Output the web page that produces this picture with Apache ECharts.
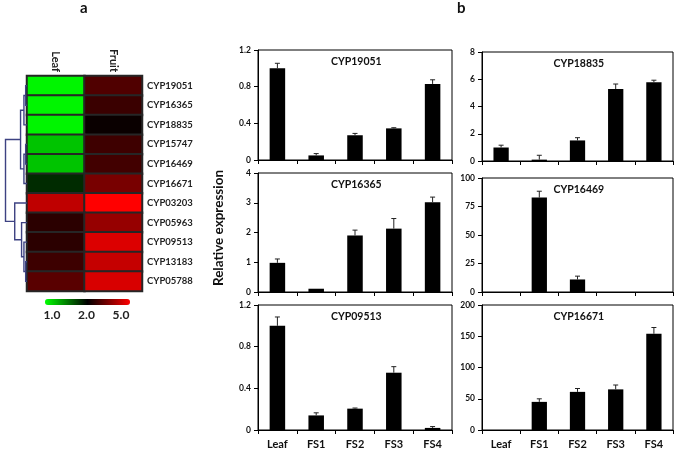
<!DOCTYPE html>
<html><head><meta charset="utf-8">
<script src="https://cdn.jsdelivr.net/npm/echarts@6/dist/echarts.min.js"></script>
<style>html,body{margin:0;padding:0;background:#fff}#c{width:675px;height:451px}</style>
</head><body><div id="c"></div>
<script>
// ---------- data: panel a (heatmap) ----------
const genes = ['CYP19051','CYP16365','CYP18835','CYP15747','CYP16469','CYP16671','CYP03203','CYP05963','CYP09513','CYP13183','CYP05788'];
const tissues = ['Leaf','Fruit'];
const leafExpr  = [1.04,1.04,1.04,1.23,1.23,1.83,4.25,2.5,2.5,2.72,3.05];
const fruitExpr = [2.94,2.68,2.12,2.73,2.78,3.41,5.0,3.77,4.59,4.32,4.54];
const colorbarLabels = ['1.0','2.0','5.0'];
// dendrogram merges: [nodeA, nodeB, height]; leaves 0..10, merge k creates node 11+k
const dendroMerges = [[0,1,1.3],[11,2,3],[3,4,1.3],[13,5,3],[12,14,6.3],[9,10,1.3],[8,16,3],[7,17,5.3],[6,18,12],[15,19,21]];

// ---------- data: panel b (bar charts) ----------
const stages = ['Leaf','FS1','FS2','FS3','FS4'];
const cyp19051 = [1.0,0.05,0.27,0.345,0.83];   const cyp19051Err = [0.055,0.02,0.02,0.007,0.045];
const cyp18835 = [0.99,0.1,1.51,5.28,5.78];     const cyp18835Err = [0.17,0.32,0.2,0.37,0.15];
const cyp16365 = [0.98,0.11,1.9,2.13,3.02];     const cyp16365Err = [0.13,0,0.18,0.34,0.17];
const cyp16469 = [0,82.8,11,0,0];               const cyp16469Err = [0,5.6,2.9,0,0];
const cyp09513 = [1.0,0.14,0.205,0.55,0.02];    const cyp09513Err = [0.085,0.025,0.006,0.058,0.013];
const cyp16671 = [0,45,61,65,154];              const cyp16671Err = [0,4.9,5.4,7,10];
const panelTitles = ['CYP19051','CYP18835','CYP16365','CYP16469','CYP09513','CYP16671'];
const axisMax = [1.2,8,4,100,1.2,200];
const axisInterval = [0.4,2,1,25,0.4,50];
const yAxisTitle = 'Relative expression';

// ---------- build ----------
const FONT = 'Lato';
const panelValues = [cyp19051,cyp18835,cyp16365,cyp16469,cyp09513,cyp16671];
const panelErrors = [cyp19051Err,cyp18835Err,cyp16365Err,cyp16469Err,cyp09513Err,cyp16671Err];
const rects = [
  {left:258, top:50,  width:194, height:110},
  {left:482, top:52,  width:191, height:109},
  {left:258, top:173, width:194, height:119},
  {left:482, top:178, width:191, height:114},
  {left:258, top:305, width:194, height:125},
  {left:482, top:305, width:191, height:125}
];

function toBar(v){ return v <= 2 ? v - 1 : 1 + (v - 2) / 3; }

// dendrogram node positions
const nodeY = genes.map((g,i)=>i), nodeH = genes.map(()=>0);
const dendroData = dendroMerges.map(m => {
  const a = m[0], b = m[1], h = m[2];
  const item = [nodeY[a], nodeH[a], nodeY[b], nodeH[b], h];
  nodeY.push((nodeY[a] + nodeY[b]) / 2); nodeH.push(h);
  return item;
});

const heatData = [];
genes.forEach((g,i)=>{
  heatData.push([0, i, toBar(leafExpr[i])]);
  heatData.push([1, i, toBar(fruitExpr[i])]);
});

const grid = [], xAxis = [], yAxis = [], series = [], graphic = [];

// grid 0: heatmap
grid.push({left:27, top:76, width:115, height:215, show:true, borderColor:'#262626', borderWidth:1.5, backgroundColor:'transparent'});
xAxis.push({type:'category', gridIndex:0, data:tissues, position:'top',
  axisLine:{show:false}, axisTick:{show:false},
  axisLabel:{rotate:90, margin:4, fontFamily:FONT, fontWeight:'bold', fontSize:11, color:'#222'}});
yAxis.push({type:'category', gridIndex:0, data:genes, inverse:true, position:'right',
  axisLine:{show:false}, axisTick:{show:false},
  axisLabel:{margin:5, fontFamily:FONT, fontWeight:'bold', fontSize:9.5, color:'#222'}});
series.push({type:'heatmap', xAxisIndex:0, yAxisIndex:0, data:heatData,
  itemStyle:{borderColor:'#262626', borderWidth:2}, emphasis:{disabled:true}});

// grid 1: dendrogram
grid.push({left:5, top:76, width:22, height:215, show:false});
xAxis.push({type:'value', gridIndex:1, min:0, max:21.5, inverse:true, show:false});
yAxis.push({type:'value', gridIndex:1, min:-0.5, max:genes.length-0.5, inverse:true, show:false});
series.push({type:'custom', xAxisIndex:1, yAxisIndex:1, data:dendroData, silent:true,
  renderItem:function(params, api){
    const ya = api.value(0), ha = api.value(1), yb = api.value(2), hb = api.value(3), h = api.value(4);
    const p = [api.coord([ha,ya]), api.coord([h,ya]), api.coord([h,yb]), api.coord([hb,yb])];
    return {type:'polyline', shape:{points:p}, style:{stroke:'#3d4282', lineWidth:1.4, fill:null}};
  }});

// grid 2: colorbar labels axis
grid.push({left:52, top:299, width:69, height:6, show:false});
xAxis.push({type:'value', gridIndex:2, min:0, max:2, interval:1,
  axisLine:{show:false}, axisTick:{show:false}, splitLine:{show:false},
  axisLabel:{margin:4, fontFamily:FONT, fontWeight:'bold', fontSize:12, color:'#222',
    formatter:function(v){ return colorbarLabels[Math.round(v)]; }}});
yAxis.push({type:'value', gridIndex:2, show:false});

// bar panels
rects.forEach((r, k) => {
  const gi = grid.length;
  const isBottom = k >= 4;
  grid.push(Object.assign({show:true, borderColor:'#000', borderWidth:1, backgroundColor:'transparent'}, r));
  xAxis.push({type:'category', gridIndex:gi, data:stages,
    axisLine:{lineStyle:{color:'#000', width:1}},
    axisTick:{show:true, length:4, interval:0, lineStyle:{color:'#000'}},
    axisLabel:{show:isBottom, interval:0, margin:9, fontFamily:FONT, fontWeight:'bold', fontSize:11, color:'#111'}});
  yAxis.push({type:'value', gridIndex:gi, min:0, max:axisMax[k], interval:axisInterval[k],
    axisLine:{show:true, lineStyle:{color:'#000', width:1}},
    axisTick:{show:true, length:4, lineStyle:{color:'#000'}},
    splitLine:{show:false},
    axisLabel:{margin:7, fontFamily:FONT, fontWeight:'bold', fontSize:8.5, color:'#111'}});
  series.push({type:'bar', xAxisIndex:gi, yAxisIndex:gi, data:panelValues[k], barWidth:'40%',
    itemStyle:{color:'#000'}, silent:true});
  series.push({type:'custom', xAxisIndex:gi, yAxisIndex:gi, silent:true, z:3,
    data:panelValues[k].map((v,i)=>[i, v, panelErrors[k][i]]),
    renderItem:function(params, api){
      const x = api.value(0), v = api.value(1), e = api.value(2);
      if (!(e > 0)) return null;
      const p0 = api.coord([x, v]), p1 = api.coord([x, v + e]);
      const hw = 2.5;
      return {type:'group', children:[
        {type:'line', shape:{x1:p0[0], y1:p0[1], x2:p1[0], y2:p1[1]}, style:{stroke:'#222', lineWidth:1}},
        {type:'line', shape:{x1:p1[0]-hw, y1:p1[1], x2:p1[0]+hw, y2:p1[1]}, style:{stroke:'#222', lineWidth:1}}
      ]};
    }});
  graphic.push({type:'text', left:r.left + r.width/2 - 24, top:r.top + 6,
    style:{text:panelTitles[k], font:'bold 10.5px ' + FONT, fill:'#111'}});
});

graphic.push({type:'text', left:80, top:1, style:{text:'a', font:'bold 15px ' + FONT, fill:'#111'}});
graphic.push({type:'text', left:457, top:1, style:{text:'b', font:'bold 15px ' + FONT, fill:'#111'}});
graphic.push({type:'text', x:219, y:228, rotation:Math.PI/2,
  style:{text:yAxisTitle, font:'bold 13.5px ' + FONT, fill:'#111', align:'center', verticalAlign:'middle'}});

const chart = echarts.init(document.getElementById('c'), null, {renderer:'canvas'});
chart.setOption({
  animation:false,
  backgroundColor:'#fff',
  grid, xAxis, yAxis, series, graphic,
  visualMap:{type:'continuous', min:0, max:2, dimension:2, seriesIndex:0, orient:'horizontal',
    left:45, top:299, itemWidth:6, itemHeight:85, calculable:false, padding:0,
    inRange:{color:['#00ff00','#000000','#ff0000']}, textStyle:{color:'transparent'}}
});
</script></body></html>
